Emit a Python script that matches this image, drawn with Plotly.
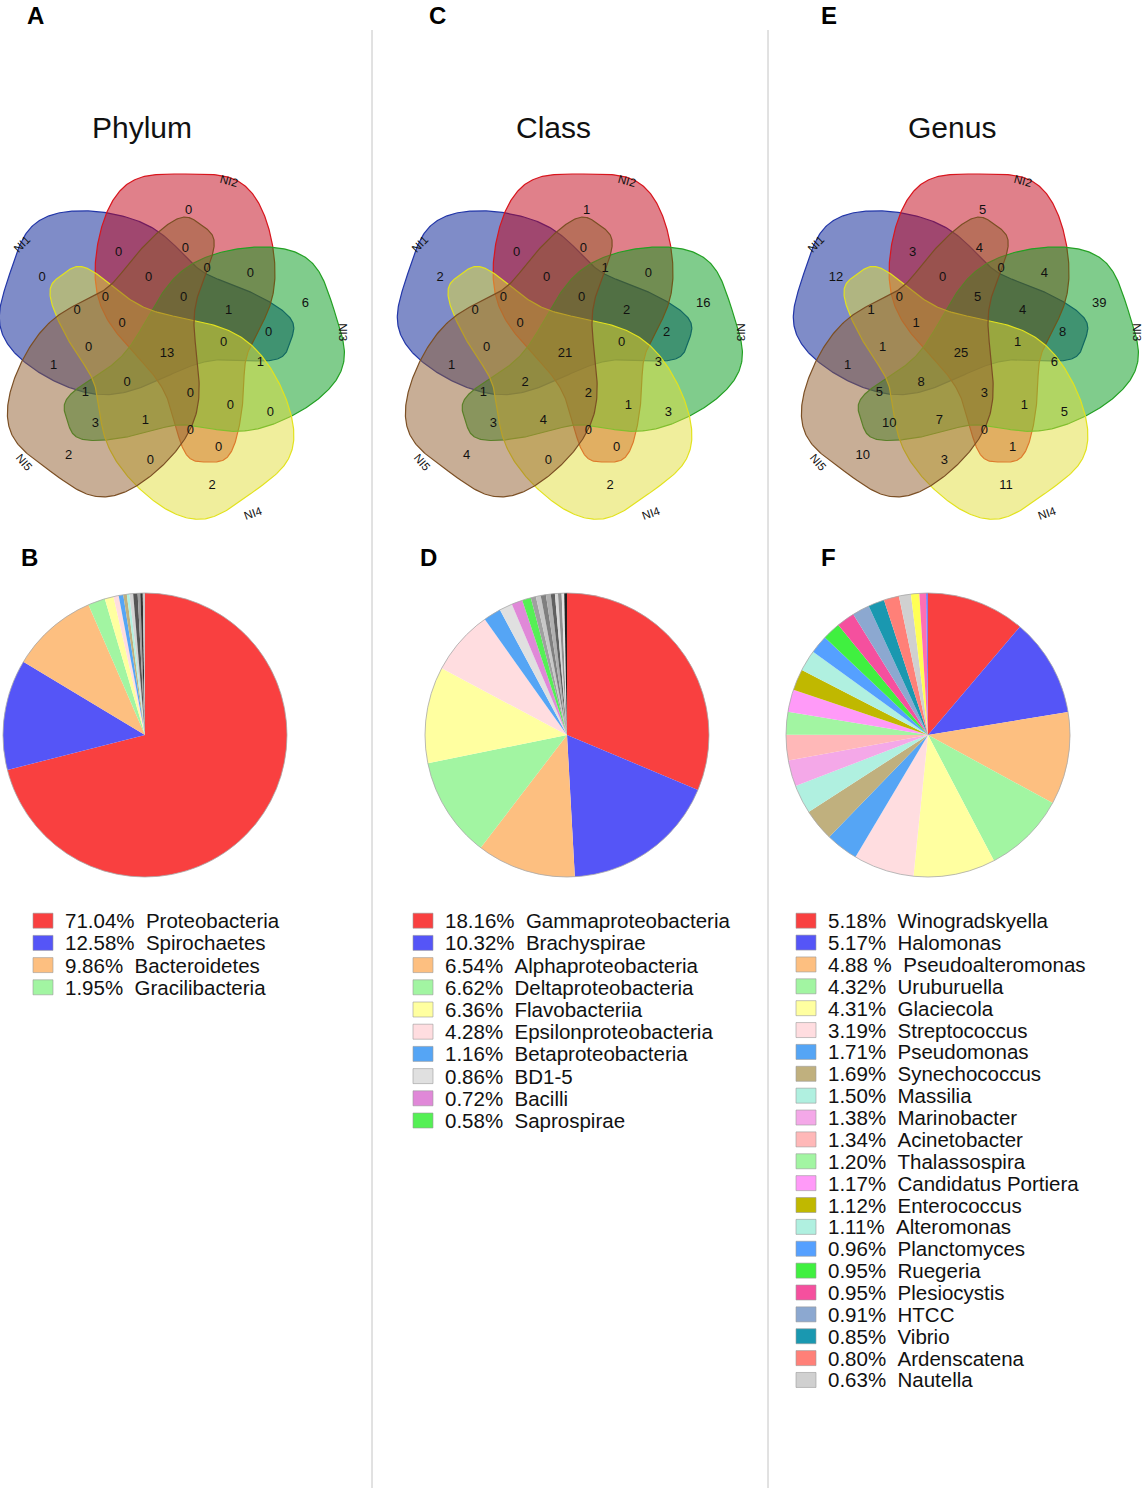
import numpy as np
import plotly.graph_objects as go

W, H = 1145, 1488
FONT = "Liberation Sans, Arial, sans-serif"

# ---- Venn data: counts per region, same region order in all three diagrams
VENN_SETS = ["NI1", "NI2", "NI3", "NI4", "NI5"]
PHYLUM_VENN = [0, 6, 2, 2, 0, 0, 0, 0, 0, 0, 0, 0, 0, 1, 0, 0,
               0, 13, 0, 1, 1, 0, 1, 0, 0, 0, 3, 1, 0, 0, 0]
CLASS_VENN = [1, 16, 2, 4, 2, 0, 0, 1, 0, 0, 0, 0, 0, 2, 2, 0,
              0, 21, 0, 1, 3, 2, 1, 2, 1, 3, 3, 4, 0, 0, 0]
GENUS_VENN = [5, 39, 11, 10, 12, 3, 4, 0, 4, 0, 0, 1, 5, 4, 8, 1,
              1, 25, 1, 1, 6, 8, 5, 3, 1, 5, 10, 7, 0, 1, 3]

# ---- pie data (legend entries, then the small unlabelled slices)
PHYLUM_PCT = ["71.04%", "12.58%", "9.86%", "1.95%"]
PHYLUM_NAMES = ["Proteobacteria", "Spirochaetes", "Bacteroidetes", "Gracilibacteria"]
PHYLUM_COLORS = ["#F94040", "#5555F7", "#FDBF80", "#A2F5A2"]
PHYLUM_MINOR = [1.0, 0.6, 0.52, 0.4, 0.3, 0.42, 0.5, 0.3, 0.28, 0.25]
PHYLUM_MINOR_COLORS = ["#FFFFA0", "#FFDDE0", "#55A5F5", "#C0B07E", "#B0F0E0",
                       "#D4D4D4", "#555555", "#A0A0A0", "#333333", "#C8C8C8"]

CLASS_PCT = ["18.16%", "10.32%", "6.54%", "6.62%", "6.36%",
             "4.28%", "1.16%", "0.86%", "0.72%", "0.58%"]
CLASS_NAMES = ["Gammaproteobacteria", "Brachyspirae", "Alphaproteobacteria",
               "Deltaproteobacteria", "Flavobacteriia", "Epsilonproteobacteria",
               "Betaproteobacteria", "BD1-5", "Bacilli", "Saprospirae"]
CLASS_COLORS = ["#F94040", "#5555F7", "#FDBF80", "#A2F5A2", "#FFFFA0",
                "#FFDDE0", "#55A5F5", "#E0E0E0", "#E088D8", "#55F055"]
CLASS_MINOR = [0.34, 0.32, 0.34, 0.32, 0.27, 0.2, 0.24, 0.17, 0.18]
CLASS_MINOR_COLORS = ["#A0A0A0", "#C8C8C8", "#808080", "#B0B0B0", "#606060",
                      "#D8D8D8", "#909090", "#E4E4E4", "#202020"]

GENUS_PCT = ["5.18%", "5.17%", "4.88 %", "4.32%", "4.31%", "3.19%", "1.71%",
             "1.69%", "1.50%", "1.38%", "1.34%", "1.20%", "1.17%", "1.12%",
             "1.11%", "0.96%", "0.95%", "0.95%", "0.91%", "0.85%", "0.80%", "0.63%"]
GENUS_NAMES = ["Winogradskyella", "Halomonas", "Pseudoalteromonas", "Uruburuella",
               "Glaciecola", "Streptococcus", "Pseudomonas", "Synechococcus",
               "Massilia", "Marinobacter", "Acinetobacter", "Thalassospira",
               "Candidatus Portiera", "Enterococcus", "Alteromonas", "Planctomyces",
               "Ruegeria", "Plesiocystis", "HTCC", "Vibrio", "Ardenscatena", "Nautella"]
GENUS_COLORS = ["#F94040", "#5555F7", "#FDBF80", "#A2F5A2", "#FFFFA0", "#FFDDE0",
                "#55A5F5", "#C0B07E", "#B0F0E0", "#F4A8E8", "#FFB8B8", "#A2F5A2",
                "#FF9AF8", "#C0B800", "#B0F0E0", "#55A0FF", "#40F040", "#F5509E",
                "#8CA8D0", "#1A98B0", "#FF8078", "#D0D0D0"]
GENUS_MINOR = [0.44, 0.35, 0.1]
GENUS_MINOR_COLORS = ["#FFFF55", "#FF6EB4", "#7C7CF0"]

# ---- layout of the venn diagrams (px offsets from the centre label, y down)
VENN_FILLS = ["rgba(0,25,145,0.5)", "rgba(193,1,21,0.5)", "rgba(1,153,25,0.5)",
              "rgba(225,221,57,0.5)", "rgba(145,93,45,0.5)"]
VENN_EDGES = ["#2236A8", "#D8161E", "#23A023", "#E2E21E", "#7B4F24"]
VENN_PIVOT = (-1, -9.5)  # rotation centre of the five blobs
VENN_SPOTS = [
    (21.7, -143.3), (138.3, -50), (45, 131.7), (-98.3, 101.7), (-125, -76.7),
    (-48.3, -101.7), (18.3, -105), (40, -85), (83.3, -80), (-18.3, -76.7),
    (-61.7, -56.7), (-90, -43.3), (16.7, -56.7), (61.7, -43.3), (101.7, -21.7),
    (-45, -30), (-78.3, -6.7), (0, 0), (56.7, -11.7), (-113.3, 11.7),
    (93.3, 8.3), (-40, 28.3), (-81.7, 38.3), (23.3, 40), (63.3, 51.7),
    (103.3, 58.3), (-71.7, 70), (-21.7, 66.7), (23.3, 76.7), (51.7, 93.3),
    (-16.7, 106.7),
]
SET_LABEL_SPOTS = [(-145, -110), (61.7, -172.7), (176, -21.7), (86.7, 159.3), (-143.3, 108.3)]
SET_LABEL_ANGLES = [-45, 15, 90, -20, 50]


def blob_template(n=240):
    """Outline of the NI2 blob: x right, y up, px from the rotation centre."""
    t = np.linspace(0, np.pi, n)
    u = 288 * (1 - np.cos(t)) / 2  # distance below the top of the lobe
    ends = np.sin(t) ** 0.5  # rounded ends
    half = (38 + 57 / (1 + np.exp((u - 165) / 22))) * ends
    mid = 19 + 23 / (1 + np.exp((195 - u) / 15))
    y = 170.5 - u
    return (
        np.concatenate([mid + half, (mid - half)[::-1]]),
        np.concatenate([y, y[::-1]]),
    )


def add_venn(fig, cx, cy, counts):
    bx, by = blob_template()
    px, py = cx + VENN_PIVOT[0], cy + VENN_PIVOT[1]
    for k in range(len(VENN_SETS)):
        a = np.radians(72 - 72 * k)
        fig.add_trace(
            go.Scatter(
                x=px + bx * np.cos(a) - by * np.sin(a),
                y=py - (bx * np.sin(a) + by * np.cos(a)),
                mode="lines",
                fill="toself",
                fillcolor=VENN_FILLS[k],
                line={"color": VENN_EDGES[k], "width": 1.2},
                hoverinfo="skip",
            )
        )
    fig.add_trace(
        go.Scatter(
            x=[cx + dx for dx, _ in VENN_SPOTS],
            y=[cy + dy for _, dy in VENN_SPOTS],
            mode="text",
            text=[str(c) for c in counts],
            textfont={"family": FONT, "size": 13, "color": "#111111"},
            hoverinfo="skip",
        )
    )
    for name, (dx, dy), ang in zip(VENN_SETS, SET_LABEL_SPOTS, SET_LABEL_ANGLES):
        fig.add_annotation(
            x=cx + dx, y=cy + dy, text=name, textangle=ang, showarrow=False,
            font={"family": FONT, "size": 11.5, "color": "#111111"},
        )


def add_pie(fig, cx, cy, names, values, colors, r=142):
    labels = names + [f"minor {i}" for i in range(len(values) - len(names))]
    fig.add_trace(
        go.Pie(
            labels=labels,
            values=values,
            marker={"colors": colors, "line": {"width": 0}},
            sort=False,
            direction="clockwise",
            rotation=0,
            textinfo="none",
            hoverinfo="label+percent",
            showlegend=False,
            domain={
                "x": [(cx - r) / W, (cx + r) / W],
                "y": [1 - (cy + r) / H, 1 - (cy - r) / H],
            },
        )
    )
    fig.add_shape(
        type="circle", x0=cx - r, x1=cx + r, y0=cy - r, y1=cy + r,
        line={"color": "#A8A8A8", "width": 0.8},
    )


def add_legend(fig, left, top, step, pcts, names, colors):
    for i, (pct, name, color) in enumerate(zip(pcts, names, colors)):
        y = top + i * step
        fig.add_shape(
            type="rect", x0=left, x1=left + 20, y0=y - 7.5, y1=y + 7.5,
            fillcolor=color, line={"color": "#9A9A9A", "width": 0.6},
        )
        fig.add_annotation(
            x=left + 30, y=y, text=pct + "\u00a0\u00a0" + name, xanchor="left",
            showarrow=False, font={"family": FONT, "size": 20.5, "color": "#111111"},
        )


def pie_values(pcts, minor):
    return [float(p.replace("%", "").strip()) for p in pcts] + minor


fig = go.Figure()

panels = [
    ("A", "B", "Phylum", 167, 145, 33, 22.2, PHYLUM_VENN, PHYLUM_PCT, PHYLUM_NAMES,
     PHYLUM_COLORS, PHYLUM_MINOR, PHYLUM_MINOR_COLORS, (35, 29), 142),
    ("C", "D", "Class", 565, 567, 413, 22.2, CLASS_VENN, CLASS_PCT, CLASS_NAMES,
     CLASS_COLORS, CLASS_MINOR, CLASS_MINOR_COLORS, (437, 428), 553),
    ("E", "F", "Genus", 961, 928, 796, 21.87, GENUS_VENN, GENUS_PCT, GENUS_NAMES,
     GENUS_COLORS, GENUS_MINOR, GENUS_MINOR_COLORS, (829, 828), 952),
]

for (top_tag, low_tag, title, venn_x, pie_x, leg_x, step, counts, pcts, names,
     colors, minor, minor_colors, tag_x, title_x) in panels:
    add_venn(fig, venn_x, 354, counts)
    add_pie(fig, pie_x, 735, names, pie_values(pcts, minor), colors + minor_colors)
    add_legend(fig, leg_x, 920.7, step, pcts, names, colors)
    fig.add_annotation(x=title_x, y=127, text=title, showarrow=False,
                       font={"family": FONT, "size": 30, "color": "#111111"})
    fig.add_annotation(x=tag_x[0], y=15, text=f"<b>{top_tag}</b>", showarrow=False,
                       font={"family": FONT, "size": 24, "color": "#000000"})
    fig.add_annotation(x=tag_x[1], y=557, text=f"<b>{low_tag}</b>", showarrow=False,
                       font={"family": FONT, "size": 24, "color": "#000000"})

for sep_x in (372, 768):
    fig.add_shape(type="line", x0=sep_x, x1=sep_x, y0=30, y1=H,
                  line={"color": "#C4C4C4", "width": 1})

fig.update_layout(
    width=W,
    height=H,
    margin={"l": 0, "r": 0, "t": 0, "b": 0},
    paper_bgcolor="white",
    plot_bgcolor="white",
    showlegend=False,
    xaxis={"range": [0, W], "visible": False, "fixedrange": True},
    yaxis={"range": [H, 0], "visible": False, "fixedrange": True},
)

# the page body has a default 8px margin; drop it so the figure sits at 0,0
fig.write_html(
    "out.html",
    config={"displayModeBar": False},
    post_script="document.body.style.margin = '0';",
)
